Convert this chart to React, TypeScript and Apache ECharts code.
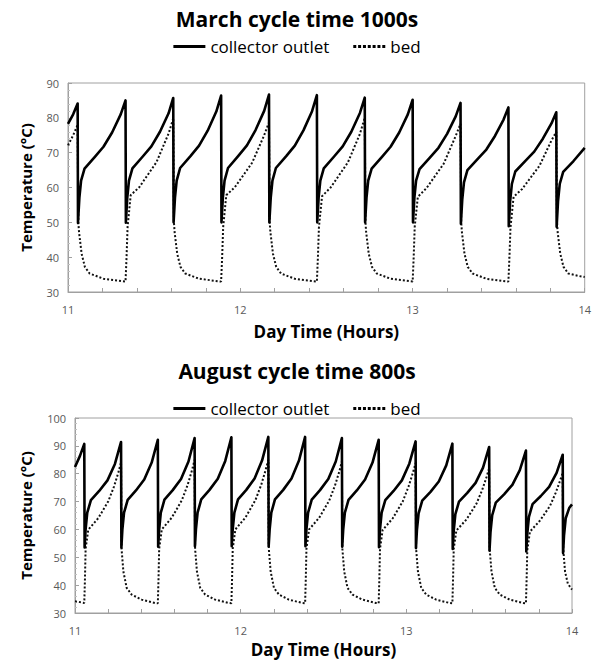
import React, { useEffect, useRef } from "react";
import * as echarts from "echarts";

const chartTitles = ["March cycle time 1000s", "August cycle time 800s"];
const seriesNames = ["collector outlet", "bed"];
const xAxisName = "Day Time (Hours)";
const yAxisName = "Temperature (°C)";
const xRange = [11, 14];
const yRanges = [
  [30, 90],
  [30, 100],
];

// March, cycle time 1000 s: [hour, °C]
const marchOutlet: number[][] = [
  [11.0, 78.3], [11.03, 81.0], [11.056, 84.1],
  [11.058, 49.8], [11.066, 57], [11.076, 62], [11.096, 65.4], [11.156, 68.8], [11.206, 71.7], [11.256, 75.8], [11.306, 81], [11.334, 85.0],
  [11.336, 49.9], [11.344, 57], [11.354, 62], [11.374, 65.5], [11.434, 68.9], [11.484, 71.8], [11.534, 76], [11.584, 81.3], [11.611, 85.7],
  [11.613, 50], [11.621, 57], [11.631, 62], [11.651, 65.6], [11.711, 69], [11.761, 72], [11.811, 76.3], [11.861, 81.8], [11.889, 86.4],
  [11.891, 50], [11.899, 57], [11.909, 62], [11.929, 65.6], [11.989, 69.1], [12.039, 72.1], [12.089, 76.5], [12.139, 82], [12.167, 86.7],
  [12.169, 50], [12.177, 57], [12.187, 62], [12.207, 65.6], [12.267, 69], [12.317, 72], [12.367, 76.4], [12.417, 81.9], [12.445, 86.5],
  [12.447, 50], [12.455, 57], [12.465, 62], [12.485, 65.5], [12.545, 68.9], [12.595, 71.8], [12.645, 76], [12.695, 81.4], [12.723, 85.8],
  [12.725, 50], [12.733, 57], [12.743, 62], [12.763, 65.4], [12.823, 68.8], [12.873, 71.7], [12.923, 75.8], [12.973, 81], [13.001, 85.2],
  [13.003, 50], [13.011, 57], [13.021, 62], [13.041, 65.3], [13.101, 68.6], [13.151, 71.4], [13.201, 75.4], [13.251, 80.4], [13.279, 84.3],
  [13.281, 49.6], [13.289, 56.5], [13.299, 61.5], [13.319, 65], [13.379, 68.2], [13.429, 70.9], [13.479, 74.8], [13.529, 79.5], [13.557, 83.0],
  [13.559, 48.9], [13.567, 56], [13.577, 61], [13.597, 64.6], [13.657, 67.7], [13.707, 70.3], [13.757, 74], [13.807, 78.4], [13.835, 81.6],
  [13.837, 48.7], [13.845, 56], [13.855, 61], [13.875, 64.5], [13.935, 67.6], [14.0, 71.4],
];

const marchBed: number[][] = [
  [11.0, 72.1], [11.03, 75.0], [11.056, 78.0],
  [11.06, 50], [11.064, 47.2], [11.079, 41], [11.098, 37.2], [11.126, 35.3], [11.206, 33.8], [11.316, 33.1], [11.334, 33.0],
  [11.34, 40], [11.346, 48.7], [11.364, 57.8], [11.414, 60.1], [11.514, 67.3], [11.584, 75.5], [11.608, 79.3], [11.611, 80.0],
  [11.615, 50], [11.619, 47.2], [11.634, 41], [11.653, 37.2], [11.681, 35.3], [11.761, 33.8], [11.871, 33.1], [11.889, 33.0],
  [11.895, 40], [11.901, 48.7], [11.919, 57.8], [11.969, 60.1], [12.069, 67.1], [12.139, 75], [12.163, 78.2], [12.167, 78.6],
  [12.171, 50], [12.175, 47.2], [12.19, 41], [12.209, 37.2], [12.237, 35.3], [12.317, 33.8], [12.427, 33.1], [12.445, 33.0],
  [12.451, 40], [12.457, 48.7], [12.475, 57.5], [12.525, 60], [12.625, 67.2], [12.695, 75.4], [12.719, 79.4], [12.723, 80.0],
  [12.727, 50], [12.731, 47.2], [12.746, 41], [12.765, 37.2], [12.793, 35.3], [12.873, 33.8], [12.983, 33.1], [13.001, 33.0],
  [13.007, 40], [13.013, 48.7], [13.031, 57.3], [13.081, 59.8], [13.181, 66.8], [13.251, 74.8], [13.275, 77.8], [13.279, 78.3],
  [13.283, 50], [13.287, 47.2], [13.302, 41], [13.321, 37.2], [13.349, 35.3], [13.429, 33.8], [13.539, 33.1], [13.557, 33.0],
  [13.563, 40], [13.569, 48.5], [13.587, 57.3], [13.637, 59.6], [13.737, 66.2], [13.807, 73.5], [13.831, 75.6], [13.835, 76.0],
  [13.839, 50], [13.843, 47.2], [13.858, 41], [13.877, 37.2], [13.905, 35.3], [13.965, 34.6], [14.0, 34.3],
];

// August, cycle time 800 s: [hour, °C]
const augustOutlet: number[][] = [
  [11.0, 82.4], [11.03, 86.4], [11.056, 90.7],
  [11.058, 53.5], [11.064, 60], [11.074, 66], [11.096, 70.5], [11.146, 73.8], [11.196, 77.6], [11.241, 83.5], [11.278, 91.4],
  [11.28, 53.5], [11.286, 60], [11.296, 66], [11.318, 70.6], [11.368, 74], [11.418, 77.9], [11.463, 84], [11.5, 92.2],
  [11.502, 53.8], [11.508, 60], [11.518, 66], [11.54, 70.7], [11.59, 74.1], [11.64, 78.1], [11.685, 84.4], [11.722, 92.8],
  [11.724, 54], [11.73, 60], [11.74, 66], [11.762, 70.8], [11.812, 74.2], [11.862, 78.2], [11.907, 84.6], [11.944, 93.1],
  [11.946, 54], [11.952, 60], [11.962, 66], [11.984, 70.8], [12.034, 74.2], [12.084, 78.3], [12.129, 84.7], [12.167, 93.2],
  [12.169, 54], [12.175, 60], [12.185, 66], [12.207, 70.8], [12.257, 74.2], [12.307, 78.3], [12.352, 84.7], [12.389, 93.2],
  [12.391, 54], [12.397, 60], [12.407, 66], [12.429, 70.7], [12.479, 74.1], [12.529, 78.1], [12.574, 84.4], [12.611, 92.8],
  [12.613, 53.8], [12.619, 60], [12.629, 66], [12.651, 70.6], [12.701, 74], [12.751, 77.9], [12.796, 84], [12.833, 92.2],
  [12.835, 53.6], [12.841, 60], [12.851, 66], [12.873, 70.5], [12.923, 73.8], [12.973, 77.6], [13.018, 83.6], [13.056, 91.6],
  [13.058, 53.3], [13.064, 59.8], [13.074, 65.8], [13.096, 70.3], [13.146, 73.5], [13.196, 77.2], [13.241, 83], [13.278, 90.8],
  [13.28, 53], [13.286, 59.5], [13.296, 65.5], [13.318, 70], [13.368, 73.1], [13.418, 76.7], [13.463, 82.2], [13.5, 89.6],
  [13.502, 52.4], [13.508, 59], [13.518, 65], [13.54, 69.6], [13.59, 72.6], [13.64, 76], [13.685, 81.3], [13.722, 88.3],
  [13.724, 52.1], [13.73, 58.5], [13.74, 64.5], [13.762, 69.1], [13.812, 72], [13.862, 75.3], [13.907, 80.3], [13.944, 86.8],
  [13.946, 51.5], [13.952, 58], [13.962, 64], [13.984, 67.8], [14.0, 69.0],
];

const augustBed: number[][] = [
  [11.0, 34.2], [11.03, 33.9], [11.056, 33.6],
  [11.06, 42], [11.064, 53], [11.08, 59.9], [11.141, 64.1], [11.201, 70.1], [11.236, 75.5], [11.262, 80.5], [11.278, 84.1],
  [11.281, 53], [11.292, 44.9], [11.312, 39], [11.342, 36.6], [11.402, 34.8], [11.483, 33.6], [11.5, 33.5],
  [11.504, 42], [11.508, 53], [11.524, 60], [11.585, 64.3], [11.645, 70.5], [11.68, 76], [11.706, 81.2], [11.722, 85],
  [11.725, 53], [11.736, 44.9], [11.756, 39], [11.786, 36.6], [11.846, 34.8], [11.927, 33.6], [11.944, 33.5],
  [11.948, 42], [11.952, 53], [11.968, 60], [12.029, 64.3], [12.089, 70.5], [12.124, 76], [12.15, 81.2], [12.167, 85],
  [12.17, 53], [12.181, 44.9], [12.201, 39], [12.231, 36.6], [12.291, 34.8], [12.372, 33.6], [12.389, 33.5],
  [12.393, 42], [12.397, 53], [12.413, 60], [12.474, 64.2], [12.534, 70.3], [12.569, 75.7], [12.595, 80.7], [12.611, 84.4],
  [12.614, 53], [12.625, 44.9], [12.645, 39], [12.675, 36.6], [12.735, 34.8], [12.816, 33.6], [12.833, 33.5],
  [12.837, 42], [12.841, 53], [12.857, 59.8], [12.918, 64], [12.978, 70], [13.013, 75.3], [13.039, 80.2], [13.056, 83.8],
  [13.059, 53], [13.07, 44.9], [13.09, 39], [13.12, 36.6], [13.18, 34.8], [13.261, 33.6], [13.278, 33.5],
  [13.282, 42], [13.286, 53], [13.302, 59.6], [13.363, 63.6], [13.423, 69.2], [13.458, 74.2], [13.484, 78.8], [13.5, 82],
  [13.503, 53], [13.514, 44.9], [13.534, 39], [13.564, 36.6], [13.624, 34.8], [13.705, 33.6], [13.722, 33.5],
  [13.726, 42], [13.73, 52.5], [13.746, 59.2], [13.807, 63.2], [13.867, 68.4], [13.902, 73.2], [13.928, 77.5], [13.944, 80.3],
  [13.947, 53], [13.958, 44.9], [13.975, 40.5], [14.0, 38.4],
];

const FONT = '"Open Sans", Lato, "DejaVu Sans", sans-serif';
const GRAY = "#a0a0a0";
const LABEL = "#595959";

const SOLID_ICON = "path://M0,0H32V3H0Z";
const DOTTED_ICON =
  "path://M0,0h3v3h-3z M4.83,0h3v3h-3z M9.67,0h3v3h-3z M14.5,0h3v3h-3z M19.33,0h3v3h-3z M24.17,0h3v3h-3z M29,0h3v3h-3z";

function makeXAxis(i: number, gap: number) {
  return {
    type: "value",
    gridIndex: i,
    min: xRange[0],
    max: xRange[1],
    interval: 0.2,
    name: xAxisName,
    nameLocation: "middle",
    nameGap: gap,
    nameTextStyle: { fontFamily: FONT, fontWeight: "bold", fontSize: 17, color: "#000" },
    axisLine: { show: true, lineStyle: { color: GRAY, width: 1 } },
    axisTick: { show: true, inside: true, length: 4, lineStyle: { color: GRAY } },
    axisLabel: {
      margin: 12,
      fontFamily: FONT,
      fontSize: 11,
      color: LABEL,
      formatter: (v: number) => (Math.abs(v - Math.round(v)) < 1e-6 ? String(Math.round(v)) : ""),
    },
    splitLine: { show: false },
  };
}

function makeYAxis(i: number, gap: number) {
  return {
    type: "value",
    gridIndex: i,
    min: yRanges[i][0],
    max: yRanges[i][1],
    interval: 10,
    name: yAxisName,
    nameLocation: "middle",
    nameRotate: 90,
    nameGap: gap,
    nameTextStyle: { fontFamily: FONT, fontWeight: "bold", fontSize: 15, color: "#000" },
    axisLine: { show: true, lineStyle: { color: GRAY, width: 1 } },
    axisTick: { show: true, inside: true, length: 4, lineStyle: { color: GRAY } },
    minorTick: { show: true, splitNumber: 5, length: 2, lineStyle: { color: "#c0c0c0" } },
    axisLabel: { margin: 9, fontFamily: FONT, fontSize: 11, color: LABEL },
    splitLine: { show: false },
  };
}

function outletSeries(i: number, data: number[][]) {
  return {
    name: seriesNames[0],
    type: "line",
    xAxisIndex: i,
    yAxisIndex: i,
    data,
    symbol: "none",
    showSymbol: false,
    z: 3,
    lineStyle: { color: "#000", width: 2.6, join: "round" },
    itemStyle: { color: "#000" },
  };
}

function bedSeries(i: number, data: number[][]) {
  return {
    name: seriesNames[1],
    type: "line",
    xAxisIndex: i,
    yAxisIndex: i,
    data,
    symbol: "none",
    showSymbol: false,
    z: 2,
    lineStyle: { color: "#111", width: 2, type: [2, 2] },
    itemStyle: { color: "#111" },
  };
}

function legendAt(top: number) {
  return {
    top,
    left: "center",
    padding: 0,
    data: [
      { name: seriesNames[0], icon: SOLID_ICON },
      { name: seriesNames[1], icon: DOTTED_ICON },
    ],
    itemWidth: 32,
    itemHeight: 3,
    itemGap: 24,
    itemStyle: { color: "#000", borderWidth: 0 },
    lineStyle: { width: 0, opacity: 0 },
    textStyle: { fontFamily: FONT, fontSize: 17, color: "#000" },
  };
}

export default function App() {
  const ref = useRef<HTMLDivElement>(null);
  useEffect(() => {
    if (!ref.current) return;
    const chart = echarts.init(ref.current, undefined, { renderer: "svg" });
    chart.setOption({
      animation: false,
      backgroundColor: "#fff",
      title: [
        {
          text: chartTitles[0],
          left: "center",
          top: 8,
          padding: 0,
          textStyle: { fontFamily: FONT, fontWeight: "bold", fontSize: 21, color: "#000" },
        },
        {
          text: chartTitles[1],
          left: "center",
          top: 360,
          padding: 0,
          textStyle: { fontFamily: FONT, fontWeight: "bold", fontSize: 21, color: "#000" },
        },
      ],
      legend: [legendAt(38), legendAt(400)],
      grid: [
        { left: 68, top: 83, width: 520, height: 209, show: true, borderColor: GRAY, borderWidth: 1, backgroundColor: "transparent" },
        { left: 75, top: 418, width: 497, height: 195, show: true, borderColor: GRAY, borderWidth: 1, backgroundColor: "transparent" },
      ],
      xAxis: [makeXAxis(0, 31), makeXAxis(1, 28)],
      yAxis: [makeYAxis(0, 35), makeYAxis(1, 42)],
      series: [
        outletSeries(0, marchOutlet),
        bedSeries(0, marchBed),
        outletSeries(1, augustOutlet),
        bedSeries(1, augustBed),
      ],
    });
    return () => chart.dispose();
  }, []);
  return (
    <div
      ref={ref}
      style={{ position: "absolute", left: 0, top: 0, width: 594, height: 663, background: "#fff" }}
    />
  );
}
